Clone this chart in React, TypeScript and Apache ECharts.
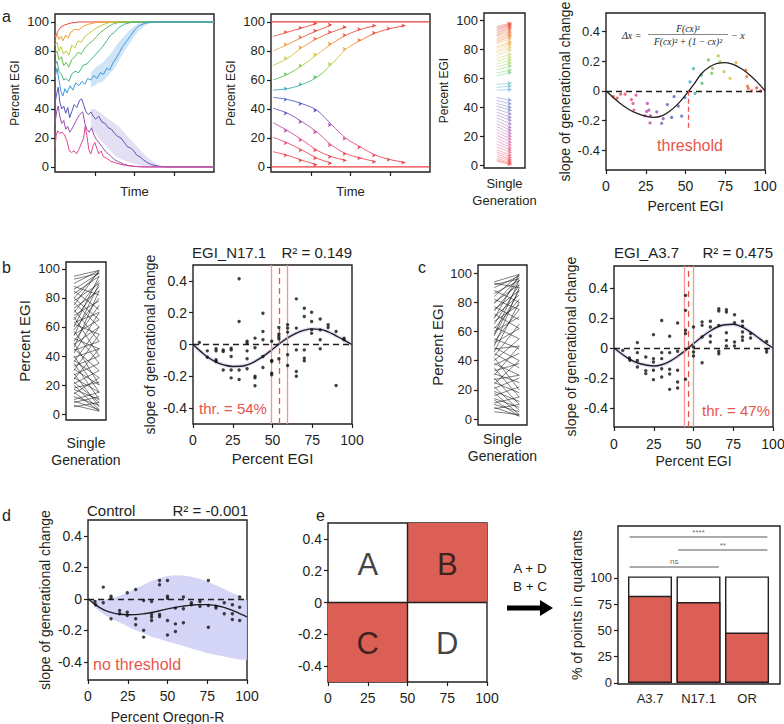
import React, { useEffect, useRef } from "react";
import * as echarts from "echarts";

const FONT = '"Liberation Sans", Arial, Helvetica, sans-serif';
const SERIF = '"Liberation Serif", "DejaVu Serif", serif';
const INK = "#231f20";
const QUAD_RED = "#dc5f55";
const THR_RED = "#e8554c";
const THR_LIGHT = "#f2968f";

// ---------------- Panel a1: simulated trajectories (time 0..4) ----------------
const A1_RED = [[0, 86], [0.03, 91], [0.08, 94], [0.15, 96.5], [0.25, 98], [0.4, 99.3], [0.6, 100], [4, 100]];
const A1_ORANGE = [[0, 90], [0.05, 92], [0.1, 88], [0.15, 90], [0.2, 87], [0.27, 91], [0.33, 89], [0.4, 93], [0.5, 95], [0.6, 94.5], [0.7, 97], [0.85, 98.5], [1.0, 99.5], [1.15, 100], [4, 100]];
const A1_YELLOW = [[0, 84], [0.05, 86], [0.1, 80], [0.15, 83], [0.22, 78], [0.28, 80], [0.35, 77], [0.42, 84], [0.5, 82], [0.58, 87], [0.66, 86], [0.75, 90], [0.85, 92], [0.95, 94], [1.05, 96], [1.2, 98], [1.35, 99.5], [1.5, 100], [4, 100]];
const A1_GREEN = [[0, 78], [0.05, 80], [0.1, 74], [0.16, 76], [0.22, 70], [0.28, 72], [0.35, 69], [0.42, 74], [0.5, 76], [0.58, 79], [0.66, 78], [0.75, 82], [0.85, 85], [0.95, 87], [1.05, 90], [1.15, 93], [1.3, 96], [1.45, 98.5], [1.6, 99.6], [1.75, 100], [4, 100]];
const A1_TEAL = [[0, 70], [0.05, 73], [0.1, 66], [0.16, 64], [0.22, 60], [0.28, 61], [0.35, 59], [0.42, 64], [0.5, 66], [0.6, 65], [0.7, 70], [0.8, 71], [0.9, 74], [1.0, 77], [1.1, 80], [1.2, 83], [1.3, 87], [1.4, 91], [1.5, 93], [1.6, 96], [1.75, 98.5], [1.9, 99.6], [2.1, 100], [4, 100]];
const A1_BLUE = [[0, 62], [0.05, 68], [0.1, 60], [0.15, 52], [0.2, 49], [0.25, 54], [0.3, 51], [0.38, 56], [0.45, 53], [0.52, 58], [0.6, 56], [0.68, 59], [0.75, 57], [0.82, 61], [0.9, 60], [0.98, 63], [1.06, 61], [1.14, 65], [1.22, 64], [1.3, 68], [1.38, 67], [1.46, 72], [1.54, 75], [1.62, 79], [1.7, 83], [1.78, 86], [1.86, 89], [1.94, 92], [2.02, 95], [2.12, 97.5], [2.25, 99], [2.4, 99.8], [2.6, 100], [4, 100]];
const A1_INDIGO = [[0, 44], [0.04, 50], [0.08, 55], [0.12, 45], [0.17, 40], [0.22, 42], [0.27, 37], [0.32, 41], [0.37, 34], [0.42, 38], [0.48, 43], [0.55, 41], [0.62, 46], [0.67, 47], [0.72, 43], [0.78, 38], [0.84, 36], [0.9, 38], [0.96, 35], [1.02, 33], [1.1, 35], [1.18, 31], [1.26, 30], [1.34, 27], [1.42, 26], [1.5, 23], [1.58, 21], [1.66, 20], [1.74, 17], [1.82, 14], [1.9, 13], [1.98, 11], [2.06, 8], [2.14, 7], [2.22, 5], [2.32, 3], [2.44, 1.5], [2.6, 0.5], [2.8, 0], [4, 0]];
const A1_PURPLE = [[0, 30], [0.04, 38], [0.08, 42], [0.12, 35], [0.17, 30], [0.22, 32], [0.27, 26], [0.32, 28], [0.37, 24], [0.42, 26], [0.48, 29], [0.55, 33], [0.62, 36], [0.7, 38], [0.75, 30], [0.8, 26], [0.86, 24], [0.92, 27], [0.98, 22], [1.04, 19], [1.1, 17], [1.18, 14], [1.26, 11], [1.34, 9], [1.42, 7], [1.5, 5], [1.6, 3.5], [1.72, 2], [1.85, 1], [2.0, 0.3], [2.2, 0], [4, 0]];
const A1_PINK = [[0, 13], [0.03, 22], [0.07, 25], [0.12, 23], [0.18, 24], [0.24, 22], [0.3, 18], [0.36, 11], [0.42, 10], [0.48, 11], [0.54, 9], [0.6, 12], [0.66, 16], [0.72, 20], [0.76, 28], [0.8, 22], [0.85, 12], [0.9, 9], [0.95, 14], [1.0, 17], [1.05, 13], [1.1, 9], [1.16, 11], [1.22, 7], [1.3, 6], [1.4, 4], [1.5, 3], [1.65, 1.8], [1.8, 1], [2.0, 0.4], [2.3, 0], [4, 0]];
const A1_LINES = [A1_RED, A1_ORANGE, A1_YELLOW, A1_GREEN, A1_TEAL, A1_INDIGO, A1_PURPLE, A1_PINK, A1_BLUE];
const A1_COLORS = ["#e8453c", "#f0a030", "#b9cf3a", "#62c24e", "#3dba86", "#5a56b4", "#9a4fb0", "#e04592", "#3b98de"];
// bands: [time, low, high]
const A1_BLUE_BAND = [[0.9, 55, 65], [1.0, 56, 68], [1.1, 58, 70], [1.2, 59, 72], [1.3, 62, 75], [1.4, 65, 78], [1.5, 68, 82], [1.6, 73, 86], [1.7, 78, 89], [1.8, 82, 92], [1.9, 86, 95], [2.0, 90, 97], [2.1, 94, 99], [2.2, 96, 100], [2.3, 98, 100], [2.4, 99, 100]];
const A1_INDIGO_BAND = [[0.9, 26, 40], [1.0, 24, 40], [1.1, 20, 38], [1.2, 17, 36], [1.3, 14, 34], [1.4, 11, 32], [1.5, 8, 30], [1.6, 6, 28], [1.7, 5, 25], [1.8, 4, 22], [1.9, 3, 19], [2.0, 2, 16], [2.1, 1.5, 13], [2.2, 1, 10], [2.3, 0.5, 7], [2.4, 0, 5], [2.5, 0, 3], [2.6, 0, 1.5], [2.7, 0, 0.5]];

// ---------------- Panel a2: model trajectories, one value per generation ----------------
const A2_GEN_START = 0.05;
const A2_GEN_STEP = 0.37;
const A2_TRAJ = [
  [90, 93, 96, 99],
  [80, 84.5, 89.5, 94, 98],
  [70, 75, 82.5, 88.5, 93, 96.5],
  [60, 64, 70, 77.5, 85, 91, 95, 97.5],
  [53, 54, 57, 62, 71, 81.5, 87.5, 92.5, 95.5, 97.5],
  [48, 46.5, 43.5, 39, 29, 19.5, 13.5, 8, 5, 3],
  [40.5, 37, 31, 24, 15, 9, 6, 3.5],
  [30.5, 25, 18.5, 11.5, 7, 4.5],
  [20.5, 16.5, 11.5, 6, 2.5],
  [10.5, 8, 4.5, 1.5],
];
const A2_FIXED = [100, 0];

// ---------------- Panel a3: single generation arrows [start, end] ----------------
const A3_ARROWS = [
  [96, 98.5], [95, 98], [94, 97.5], [93, 97], [92, 96], [91, 95.5], [90, 94.5], [89.5, 93],
  [88, 92], [87, 91], [86, 90], [85, 89.5], [84, 88],
  [82, 86], [81, 85], [79, 84], [78, 82], [76, 80],
  [74, 77], [72, 75], [70, 73], [68, 71], [66, 69], [64, 66], [62, 64.5],
  [56, 57], [54, 55], [52, 52.5],
  [47, 45], [45, 42.5], [43, 40], [41, 38], [39, 35.5],
  [37, 33], [35, 31], [33, 28.5], [31, 26], [29, 24],
  [27, 22], [25, 20], [23, 18], [21, 16], [19, 14], [17, 12], [15, 10.5], [13, 9],
  [11, 7], [9.5, 5.5], [8, 4], [6.5, 3], [5, 2], [4, 1.2], [3, 0.6],
];

// ---------------- Panel a4: model slope vs percent ----------------
const A4_POINTS = [
  [4.6, -0.04], [7, -0.05], [9.2, -0.023], [12, -0.023], [16, -0.06], [17, -0.086], [17.6, -0.13], [18.9, -0.03],
  [24.5, -0.17], [25.6, -0.14], [26, -0.086], [27, -0.13], [27.7, -0.217], [28, -0.17], [31.9, -0.142],
  [35, -0.22], [36, -0.188], [38.6, -0.093], [41.3, -0.18], [42.8, -0.04], [45.5, -0.104], [47.6, -0.172],
  [49.7, -0.047], [52.8, 0.06], [55, 0.15], [56, -0.018], [60, 0.106], [60.4, 0.05],
  [64.4, 0.208], [66.5, 0.117], [67, 0.151], [70.6, 0.235], [71.7, 0.197], [74.2, 0.129], [78, 0.084],
  [81.8, 0.19], [88, 0.14], [88.5, 0.095], [89, 0.032], [89.5, 0.016], [91.6, 0.0], [94.8, 0.02], [97.3, 0.0],
];
const FIT_X = [0, 5, 10, 15, 20, 25, 30, 35, 40, 45, 50, 55, 60, 65, 70, 75, 80, 85, 90, 95, 100];
const A4_FIT = [0, -0.05, -0.095, -0.13, -0.155, -0.172, -0.18, -0.17, -0.138, -0.092, -0.03, 0.04, 0.115, 0.16, 0.185, 0.19, 0.178, 0.15, 0.11, 0.06, 0];
const A4_THRESHOLD = 52;
const A4_THR_DEPTH = -0.25;

// ---------------- Panel b ----------------
const B1_LINES = [
  [95, 99], [93, 97], [90, 99], [88, 82], [86, 97], [85, 72], [83, 95], [80, 98], [80, 65], [78, 90], [77, 60], [75, 99],
  [73, 85], [72, 50], [70, 92], [68, 78], [67, 40], [65, 88], [63, 70], [62, 55], [60, 95], [58, 80], [57, 35], [55, 65],
  [54, 90], [52, 45], [50, 75], [49, 20], [48, 60], [46, 85], [45, 30], [44, 50], [42, 70], [40, 15], [39, 45], [37, 25],
  [36, 60], [35, 10], [33, 40], [31, 20], [30, 55], [28, 5], [27, 35], [25, 15], [24, 45], [22, 8], [21, 30], [20, 3],
  [18, 22], [17, 10], [15, 2], [14, 25], [12, 6], [10, 15], [9, 3], [8, 12], [6, 2], [5, 8],
];
const B2_POINTS = [
  [4, 0.013], [9, -0.04], [9, -0.08], [14.5, -0.027], [14.5, -0.04], [14.5, -0.096], [14.5, -0.107],
  [19, -0.034], [19, -0.044], [19, -0.16], [24, -0.023], [24, -0.034], [24, -0.075], [24, -0.16], [24, -0.21],
  [29, 0.413], [29, 0.145], [29, -0.16], [29, -0.22], [34, 0.02], [34, 0.008], [34, -0.04], [34, -0.09], [34, -0.153],
  [39, 0.04], [39, -0.02], [39, -0.2], [39, -0.21], [39, -0.26], [44, 0.197], [44, 0.082], [44, 0.03], [44, -0.075], [44, -0.145],
  [49.5, 0.02], [49.5, -0.1], [49.5, -0.107], [49.5, -0.18], [49.5, -0.19],
  [54, 0.107], [54, 0.065], [54, 0.05], [54, 0.036], [54, -0.09],
  [59.5, 0.124], [59.5, 0.103], [59.5, 0.078], [59.5, -0.065], [59.5, -0.132],
  [65, 0.287], [65, 0.103], [65, -0.034], [65, -0.17], [65, -0.2],
  [70, 0.228], [70, 0.176], [70, -0.034], [70, -0.086], [70, -0.103],
  [74.6, 0.203], [74.6, 0.145], [74.6, 0.092], [74.6, 0.07],
  [80, 0.16], [80, 0.092], [80, 0.03], [80, -0.027],
  [85, 0.124], [85, 0.107], [90, 0.082], [90, -0.258], [95, 0.04], [95, 0.03],
];
const B2_FIT = [0, -0.045, -0.085, -0.112, -0.13, -0.138, -0.137, -0.125, -0.1, -0.068, -0.03, 0.01, 0.045, 0.072, 0.09, 0.098, 0.095, 0.08, 0.055, 0.028, 0];
const B2_THR = 54;
const B2_CI = [49, 59];

// ---------------- Panel c ----------------
const C1_LINES = [
  [94, 99], [93, 90], [92, 96], [90, 98], [88, 80], [86, 95], [84, 99], [82, 75], [80, 92], [79, 97], [77, 68], [75, 88],
  [74, 95], [72, 62], [70, 85], [69, 99], [67, 78], [65, 92], [63, 55], [62, 82], [60, 70], [58, 95], [57, 88], [55, 48],
  [53, 75], [52, 62], [50, 90], [49, 40], [48, 50], [46, 80], [45, 35], [43, 65], [42, 20], [40, 55], [38, 30], [37, 45],
  [35, 15], [33, 38], [31, 25], [30, 50], [28, 10], [27, 30], [25, 18], [24, 40], [22, 6], [21, 28], [19, 12], [18, 3],
  [16, 22], [14, 8], [13, 2], [11, 15], [10, 5], [8, 2], [7, 10], [5, 3],
];
const C2_POINTS = [
  [5.5, -0.016], [9.7, -0.067], [10, -0.082], [14.7, 0.036], [14.7, -0.031], [14.7, -0.084], [14.7, -0.127],
  [20, -0.06], [20, -0.151], [20, -0.171], [24.8, 0.089], [24.8, -0.071], [24.8, -0.093], [24.8, -0.149], [24.8, -0.211],
  [30, 0.184], [30, -0.031], [30, -0.071], [30, -0.138], [30, -0.193], [35, 0.078], [35, -0.031], [35, -0.142], [35, -0.173], [35, -0.276],
  [40, 0.167], [40, -0.022], [40, -0.149], [40, -0.227], [40, -0.267], [45, 0.351], [45, 0.251], [45, 0.118], [45, 0.096], [45, -0.209],
  [50, 0.14], [50, 0.007], [50, -0.027], [50, -0.053], [55.4, 0.173], [55.4, 0.151], [55.4, 0.073], [55.4, -0.098],
  [60.6, 0.178], [60.6, 0.14], [60.6, 0.08], [60.6, 0.04], [65.9, 0.262], [65.9, 0.247], [65.9, 0.151], [65.9, -0.022], [65.9, -0.038],
  [70.7, 0.256], [70.7, 0.24], [70.7, 0.102], [70.7, 0.051], [70.7, 0.013], [75.8, 0.222], [75.8, 0.169], [75.8, 0.04], [75.8, 0.013],
  [80.8, 0.178], [80.8, 0.147], [80.8, 0.107], [80.8, 0.073], [80.8, 0.051], [85.9, 0.096], [85.9, 0.067],
  [96, 0.044], [96, -0.009], [96, -0.027],
];
const C2_FIT = [0, -0.04, -0.076, -0.1, -0.113, -0.12, -0.112, -0.09, -0.055, -0.016, 0.029, 0.072, 0.11, 0.14, 0.155, 0.158, 0.143, 0.113, 0.075, 0.035, 0];
const C2_THR = 47;
const C2_CI = [44, 50];

// ---------------- Panel d ----------------
const D_POINTS = [
  [4.4, -0.017], [4.8, -0.038], [9.6, 0.074], [9.6, -0.025], [14.5, 0.017], [14.5, 0.004], [14.5, -0.127],
  [19.9, -0.074], [19.9, -0.095], [24.7, 0.038], [24.7, -0.085], [24.7, -0.106], [30, 0.059], [30, -0.127], [30, -0.165],
  [35, -0.011], [35, -0.2], [35, -0.243], [40, -0.017], [40, -0.1], [40, -0.116], [40, -0.138],
  [45, 0.116], [45, 0.089], [45, -0.1], [45, -0.112], [50, 0.116], [50, 0.017], [50, 0.004], [50, -0.138], [50, -0.229],
  [55, -0.059], [55, -0.159], [55, -0.207], [60, 0.011], [60, -0.063], [60, -0.152], [65, -0.025], [65, -0.038],
  [70.4, -0.017], [70.4, -0.047], [75.7, 0.116], [75.7, -0.042], [75.7, -0.18], [80.5, -0.047], [80.5, -0.059],
  [85.7, -0.025], [85.7, -0.095], [90.8, -0.038], [90.8, -0.095], [90.8, -0.131], [95.4, 0.011], [95.4, -0.053], [95.4, -0.138],
];
const D_FIT = [0, -0.04, -0.07, -0.088, -0.098, -0.101, -0.1, -0.095, -0.087, -0.076, -0.064, -0.054, -0.046, -0.04, -0.037, -0.037, -0.042, -0.053, -0.07, -0.092, -0.115];
const D_BAND_LOW = [0, -0.06, -0.1, -0.13, -0.15, -0.175, -0.2, -0.22, -0.24, -0.255, -0.27, -0.285, -0.3, -0.315, -0.33, -0.345, -0.355, -0.365, -0.375, -0.385, -0.39];
const D_BAND_HIGH = [0, -0.01, -0.005, 0.005, 0.02, 0.04, 0.065, 0.09, 0.115, 0.13, 0.145, 0.15, 0.148, 0.14, 0.128, 0.11, 0.088, 0.065, 0.04, 0.02, -0.01];

// ---------------- Panel e ----------------
const QUAD_LABELS = ["A", "B", "C", "D"];
const QUAD_X = [25, 75, 25, 75];
const QUAD_Y = [0.24, 0.24, -0.26, -0.26];
const QUAD_SPLIT_X = 50;
const QUAD_SPLIT_Y = 0;
const E2_CATS = ["A3.7", "N17.1", "OR"];
const E2_IN = [83, 77, 48];
const E2_OUT = [18.5, 24.5, 53.5];
const E2_SIG = [
  { from: 0, to: 2, y: 139, text: "****" },
  { from: 1, to: 2, y: 126.5, text: "**" },
  { from: 0, to: 1, y: 110.5, text: "ns" },
];

const SLOPE_TICKS = [-0.4, -0.2, 0, 0.2, 0.4];
const PCT_TICKS = [0, 20, 40, 60, 80, 100];
const E2_TICKS = [0, 25, 50, 75, 100];

// ---------------- colour helpers ----------------
const RAINBOW_STOPS: [number, string][] = [
  [0, "#ec3b3b"], [12, "#ee4a62"], [20, "#e2489a"], [30, "#a24fb4"], [40, "#5e56b8"], [48, "#4f6dcc"],
  [52, "#3aa0e6"], [58, "#3db87a"], [64, "#62c24c"], [72, "#b3cf38"], [80, "#f0b23a"], [86, "#f08a38"],
  [92, "#ec4f3b"], [100, "#ec3b3b"],
];
function hexRgb(h: string) {
  return [parseInt(h.slice(1, 3), 16), parseInt(h.slice(3, 5), 16), parseInt(h.slice(5, 7), 16)];
}
function rainbow(v: number) {
  for (let i = 0; i < RAINBOW_STOPS.length - 1; i++) {
    const [a, ca] = RAINBOW_STOPS[i];
    const [b, cb] = RAINBOW_STOPS[i + 1];
    if (v >= a && v <= b) {
      const t = (v - a) / (b - a);
      const A = hexRgb(ca), B = hexRgb(cb);
      const c = A.map((x, k) => Math.round(x + (B[k] - x) * t));
      return `rgb(${c[0]},${c[1]},${c[2]})`;
    }
  }
  return RAINBOW_STOPS[RAINBOW_STOPS.length - 1][1];
}

function axis(gridIndex: number, o: any = {}) {
  return {
    type: "value",
    gridIndex,
    ...o,
    axisLine: { show: false, onZero: false, ...(o.axisLine || {}) },
    axisTick: { show: true, length: 4, lineStyle: { color: INK, width: 1.2 }, ...(o.axisTick || {}) },
    axisLabel: { color: INK, fontSize: 13, fontFamily: FONT, margin: 6, ...(o.axisLabel || {}) },
    splitLine: { show: false },
    nameLocation: "middle",
    nameTextStyle: { color: INK, fontSize: 14, fontFamily: FONT, lineHeight: 17, ...(o.nameTextStyle || {}) },
  };
}
const slopeFmt = (v: number) => (v === 0 ? "0" : String(v));

function txt(text: string, x: number, y: number, size: number, color = INK, align = "left", extra: any = {}) {
  return {
    type: "text",
    x,
    y,
    silent: true,
    style: {
      text,
      fill: color,
      fontSize: size,
      fontFamily: FONT,
      align,
      textAlign: align,
      verticalAlign: "middle",
      textVerticalAlign: "middle",
      ...extra,
    },
  };
}

function buildOption() {
  const grids = [
    { left: 55, top: 14, width: 159, height: 158 },
    { left: 271, top: 14, width: 159, height: 158 },
    { left: 484, top: 13, width: 41, height: 155 },
    { left: 606, top: 13, width: 159, height: 157 },
    { left: 66, top: 262, width: 40, height: 158 },
    { left: 193, top: 265, width: 159, height: 159 },
    { left: 478, top: 265, width: 49, height: 160 },
    { left: 614, top: 266, width: 159, height: 161 },
    { left: 88, top: 520, width: 159, height: 160 },
    { left: 328, top: 523, width: 159, height: 159 },
    { left: 618, top: 526, width: 162, height: 158 },
  ].map((g) => ({ ...g, show: true, borderColor: INK, borderWidth: 1.4, backgroundColor: "transparent", containLabel: false, outerBoundsMode: "none" }));

  const noAxis = { axisTick: { show: false }, axisLabel: { show: false } };
  const xAxis = [
    axis(0, { min: 0, max: 4, axisTick: { customValues: [1, 2, 3] }, axisLabel: { show: false }, name: "Time", nameGap: 11, nameTextStyle: { fontSize: 13 } }),
    axis(1, { min: 0, max: 4, axisTick: { customValues: [1, 2, 3] }, axisLabel: { show: false }, name: "Time", nameGap: 11, nameTextStyle: { fontSize: 13 } }),
    axis(2, { min: -0.85, max: 1.9, ...noAxis, name: "Single\nGeneration", nameGap: 7, nameTextStyle: { fontSize: 13 } }),
    axis(3, { min: 0, max: 100, interval: 25, axisLabel: { fontSize: 14, margin: 9 }, name: "Percent EGI", nameGap: 27, nameTextStyle: { fontSize: 14 } }),
    axis(4, { min: -0.317, max: 1.27, ...noAxis, name: "Single\nGeneration", nameGap: 14, nameTextStyle: { fontSize: 14 } }),
    axis(5, { min: 0, max: 100, interval: 25, axisLabel: { fontSize: 14, margin: 9 }, name: "Percent EGI", nameGap: 26, nameTextStyle: { fontSize: 15 } }),
    axis(6, { min: -0.65, max: 1.31, ...noAxis, name: "Single\nGeneration", nameGap: 5, nameTextStyle: { fontSize: 14 } }),
    axis(7, { min: 0, max: 100, interval: 25, axisLabel: { fontSize: 14, margin: 10 }, name: "Percent EGI", nameGap: 25, nameTextStyle: { fontSize: 14 } }),
    axis(8, { min: 0, max: 100, interval: 25, axisLabel: { fontSize: 14, margin: 9 }, name: "Percent Oregon-R", nameGap: 28, nameTextStyle: { fontSize: 14 } }),
    axis(9, { min: 0, max: 100, interval: 25, axisLabel: { fontSize: 14, margin: 9 } }),
    axis(10, {
      min: 0.34, max: 3.68, axisTick: { show: false },
      axisLabel: { customValues: [1, 2, 3], formatter: (v: number) => E2_CATS[Math.round(v) - 1], fontSize: 13, margin: 8 },
    }),
  ];
  const pctY = { axisTick: { customValues: PCT_TICKS }, axisLabel: { customValues: PCT_TICKS } };
  const slopeY = (fs: number) => ({ axisTick: { customValues: SLOPE_TICKS }, axisLabel: { customValues: SLOPE_TICKS, formatter: slopeFmt, fontSize: fs } });
  const slopeName = "slope of generational change";
  const yAxis = [
    axis(0, { min: -3.5, max: 105.5, ...pctY, name: "Percent EGI", nameGap: 30, nameTextStyle: { fontSize: 12 } }),
    axis(1, { min: -3.5, max: 105.5, ...pctY, name: "Percent EGI", nameGap: 31, nameTextStyle: { fontSize: 12 } }),
    axis(2, { min: -1.6, max: 105.3, ...pctY, name: "Percent EGI", nameGap: 29, nameTextStyle: { fontSize: 12 } }),
    axis(3, { min: -0.535, max: 0.525, ...slopeY(13), name: slopeName, nameGap: 30, nameTextStyle: { fontSize: 14 } }),
    axis(4, { min: -4.1, max: 104.8, ...pctY, name: "Percent EGI", nameGap: 33, nameTextStyle: { fontSize: 15 } }),
    axis(5, { min: -0.5, max: 0.5, ...slopeY(14), name: slopeName, nameGap: 35, nameTextStyle: { fontSize: 14 } }),
    axis(6, { min: -4.1, max: 105.5, ...pctY, name: "Percent EGI", nameGap: 23, nameTextStyle: { fontSize: 15 } }),
    axis(7, { min: -0.527, max: 0.547, ...slopeY(14), name: slopeName, nameGap: 32, nameTextStyle: { fontSize: 14 } }),
    axis(8, { min: -0.515, max: 0.5, ...slopeY(14), name: slopeName, nameGap: 35, nameTextStyle: { fontSize: 14 } }),
    axis(9, { min: -0.5, max: 0.5, ...slopeY(14) }),
    axis(10, { min: -1, max: 149.5, axisTick: { customValues: E2_TICKS }, axisLabel: { customValues: E2_TICKS }, name: "% of points in quadrants", nameGap: 33, nameTextStyle: { fontSize: 14 } }),
  ];

  const series: any[] = [];
  const add = (s: any) => {
    series.push({ animation: false, silent: true, ...s });
    return series.length - 1;
  };
  // shaded band drawn as one polygon through the axis scales
  const band = (g: number, xs: number[], lo: number[], hi: number[], color: string) => {
    add({
      type: "custom", coordinateSystem: "cartesian2d", xAxisIndex: g, yAxisIndex: g, z: 1,
      data: xs.map((x, i) => [x, lo[i], hi[i]]),
      renderItem: (params: any, api: any) => {
        if (params.dataIndex !== 0) return { type: "group", children: [] };
        const top = xs.map((x, i) => api.coord([x, hi[i]]));
        const bot = xs.map((x, i) => api.coord([x, lo[i]])).reverse();
        return { type: "polygon", shape: { points: top.concat(bot) }, style: { fill: color } };
      },
    });
  };
  const dashZero = { silent: true, symbol: "none", label: { show: false }, lineStyle: { color: INK, type: [6, 4], width: 1.3 }, data: [{ yAxis: 0 }] };

  // a1
  band(0, A1_BLUE_BAND.map((r) => r[0]), A1_BLUE_BAND.map((r) => r[1]), A1_BLUE_BAND.map((r) => r[2]), "rgba(130,185,235,0.38)");
  band(0, A1_INDIGO_BAND.map((r) => r[0]), A1_INDIGO_BAND.map((r) => r[1]), A1_INDIGO_BAND.map((r) => r[2]), "rgba(165,160,215,0.32)");
  A1_LINES.forEach((d, i) =>
    add({ type: "line", xAxisIndex: 0, yAxisIndex: 0, data: d, symbol: "none", lineStyle: { color: A1_COLORS[i], width: 1 }, z: i === A1_LINES.length - 1 || i === 7 ? 4 : 2 })
  );

  // a2
  const a2Idx: number[] = [];
  A2_FIXED.forEach((v) => a2Idx.push(add({ type: "line", xAxisIndex: 1, yAxisIndex: 1, data: [[0, v], [4, v]], symbol: "none", lineStyle: { width: 1.2 } })));
  A2_TRAJ.forEach((t) =>
    a2Idx.push(
      add({
        type: "line", xAxisIndex: 1, yAxisIndex: 1,
        data: t.map((v, k) => [A2_GEN_START + k * A2_GEN_STEP, v]),
        smooth: 0.35,
        symbol: (_v: any, p: any) => (p.dataIndex === 0 ? "none" : "arrow"),
        symbolSize: [3.2, 4], symbolRotate: -90, showSymbol: true,
        lineStyle: { width: 0.9 },
      })
    )
  );

  // a3
  add({
    type: "lines", coordinateSystem: "cartesian2d", xAxisIndex: 2, yAxisIndex: 2,
    symbol: ["none", "arrow"], symbolSize: 4,
    data: A3_ARROWS.map(([s, e]) => ({ coords: [[0, s], [1, e]], lineStyle: { color: rainbow(s), width: 0.8 } })),
  });

  // a4
  add({ type: "scatter", xAxisIndex: 3, yAxisIndex: 3, data: A4_POINTS, symbolSize: 3.2, itemStyle: { color: (p: any) => rainbow(p.value[0]) } });
  add({
    type: "line", xAxisIndex: 3, yAxisIndex: 3, data: FIT_X.map((x, i) => [x, A4_FIT[i]]), smooth: 0.4, symbol: "none",
    lineStyle: { color: INK, width: 1.3 }, z: 4,
    markLine: {
      ...dashZero,
      data: [
        { yAxis: 0 },
        [{ coord: [A4_THRESHOLD, 0], lineStyle: { color: THR_RED, type: [5, 3], width: 1.3 } }, { coord: [A4_THRESHOLD, A4_THR_DEPTH] }],
      ],
    },
  });

  // b1 / c1
  add({ type: "lines", coordinateSystem: "cartesian2d", xAxisIndex: 4, yAxisIndex: 4, data: B1_LINES.map(([s, e]) => ({ coords: [[0, s], [1, e]] })), lineStyle: { color: "#111", width: 0.6, opacity: 0.9 } });
  add({ type: "lines", coordinateSystem: "cartesian2d", xAxisIndex: 6, yAxisIndex: 6, data: C1_LINES.map(([s, e]) => ({ coords: [[0, s], [1, e]] })), lineStyle: { color: "#111", width: 0.6, opacity: 0.9 } });

  // b2 / c2 scatter with fit and thresholds
  const slopePanel = (g: number, pts: number[][], fit: number[], thr: number, ci: number[]) => {
    add({
      type: "line", xAxisIndex: g, yAxisIndex: g, data: FIT_X.map((x, i) => [x, fit[i]]), smooth: 0.4, symbol: "none",
      lineStyle: { color: "rgba(160,160,240,0.3)", width: 4 }, z: 1,
      markLine: {
        silent: true, symbol: "none", label: { show: false },
        data: [
          { xAxis: ci[0], lineStyle: { color: THR_LIGHT, type: "solid", width: 1.3 } },
          { xAxis: ci[1], lineStyle: { color: THR_LIGHT, type: "solid", width: 1.3 } },
          { xAxis: thr, lineStyle: { color: THR_RED, type: [6, 4], width: 1.3 } },
        ],
      },
    });
    add({ type: "line", xAxisIndex: g, yAxisIndex: g, data: FIT_X.map((x, i) => [x, fit[i]]), smooth: 0.4, symbol: "none", lineStyle: { color: INK, width: 1.4 }, z: 4, markLine: dashZero });
    add({ type: "scatter", xAxisIndex: g, yAxisIndex: g, data: pts, symbolSize: 3.4, itemStyle: { color: "#111" }, z: 5 });
  };
  slopePanel(5, B2_POINTS, B2_FIT, B2_THR, B2_CI);
  slopePanel(7, C2_POINTS, C2_FIT, C2_THR, C2_CI);

  // d
  band(8, FIT_X, D_BAND_LOW, D_BAND_HIGH, "rgba(208,208,246,0.9)");
  add({ type: "line", xAxisIndex: 8, yAxisIndex: 8, data: FIT_X.map((x, i) => [x, D_FIT[i]]), smooth: 0.4, symbol: "none", lineStyle: { color: INK, width: 1.4 }, z: 4, markLine: dashZero });
  add({ type: "scatter", xAxisIndex: 8, yAxisIndex: 8, data: D_POINTS, symbolSize: 3.4, itemStyle: { color: "#111" }, z: 5 });

  // e1 quadrants
  add({
    type: "scatter", xAxisIndex: 9, yAxisIndex: 9,
    data: QUAD_LABELS.map((l, i) => [QUAD_X[i], QUAD_Y[i], l]),
    symbolSize: 0,
    label: { show: true, position: "inside", formatter: (p: any) => p.value[2], fontSize: 31, fontFamily: FONT, color: "#111" },
    z: 5,
    markArea: {
      silent: true, itemStyle: { color: QUAD_RED },
      data: [
        [{ coord: [QUAD_SPLIT_X, QUAD_SPLIT_Y] }, { coord: [100, 0.5] }],
        [{ coord: [0, -0.5] }, { coord: [QUAD_SPLIT_X, QUAD_SPLIT_Y] }],
      ],
    },
    markLine: { silent: true, symbol: "none", label: { show: false }, lineStyle: { color: INK, type: "solid", width: 1.4 }, data: [{ xAxis: QUAD_SPLIT_X }, { yAxis: QUAD_SPLIT_Y }] },
  });

  // e2 bars: white total bar with the red share overlaid from zero
  const barX = E2_CATS.map((_, i) => i + 1);
  add({ type: "bar", xAxisIndex: 10, yAxisIndex: 10, barWidth: 44, data: barX.map((x, i) => [x, E2_IN[i] + E2_OUT[i]]), itemStyle: { color: "#fff", borderColor: INK, borderWidth: 1.4 } });
  add({ type: "bar", xAxisIndex: 10, yAxisIndex: 10, barWidth: 44, barGap: "-100%", data: barX.map((x, i) => [x, E2_IN[i]]), itemStyle: { color: QUAD_RED, borderColor: INK, borderWidth: 1.4 } });
  const SIG_HALF = 0.42;
  add({
    type: "lines", coordinateSystem: "cartesian2d", xAxisIndex: 10, yAxisIndex: 10,
    data: E2_SIG.map((s) => ({ coords: [[s.from + 1 - SIG_HALF, s.y], [s.to + 1 + SIG_HALF, s.y]] })),
    lineStyle: { color: INK, width: 1.5 },
  });
  add({
    type: "scatter", xAxisIndex: 10, yAxisIndex: 10, symbolSize: 0,
    data: E2_SIG.map((s) => [(s.from + s.to) / 2 + 1, s.y, s.text]),
    label: { show: true, position: "top", distance: 1, formatter: (p: any) => p.value[2], fontSize: 8, fontFamily: FONT, color: "#444" },
  });

  const graphic: any[] = [
    txt("a", 2, 16, 16),
    txt("b", 2, 267, 16),
    txt("c", 418, 267, 16),
    txt("d", 2, 515, 16),
    txt("e", 316, 515, 16),
    // a4 equation
    txt("Δx =", 622, 35, 10, INK, "left", { fontFamily: SERIF, fontStyle: "italic" }),
    txt("F(cx)²", 688, 29, 9.5, INK, "center", { fontFamily: SERIF, fontStyle: "italic" }),
    { type: "line", silent: true, shape: { x1: 648, y1: 34.5, x2: 728, y2: 34.5 }, style: { stroke: "#555", lineWidth: 0.7 } },
    txt("F(cx)² + (1 − cx)²", 688, 41.5, 9.5, INK, "center", { fontFamily: SERIF, fontStyle: "italic" }),
    txt("− x", 731, 35, 10, INK, "left", { fontFamily: SERIF, fontStyle: "italic" }),
    txt("threshold", 690, 145, 16, THR_RED, "center"),
    // b / c / d titles and notes
    txt("EGI_N17.1", 192, 252, 15),
    txt("R² = 0.149", 352, 252, 15, INK, "right"),
    txt("thr. = 54%", 199, 408, 15, THR_RED),
    txt("EGI_A3.7", 614, 252, 15),
    txt("R² = 0.475", 773, 252, 15, INK, "right"),
    txt("thr. = 47%", 770, 410, 15, THR_RED, "right"),
    txt("Control", 87, 510, 15),
    txt("R² = -0.001", 248, 510, 15, INK, "right"),
    txt("no threshold", 93, 664, 16, THR_RED),
    // e arrow
    txt("A + D", 530, 568, 13.5, INK, "center"),
    txt("B + C", 530, 586, 13.5, INK, "center"),
    {
      type: "polygon", silent: true,
      shape: { points: [[507, 605.5], [540, 605.5], [540, 600], [553, 608], [540, 616], [540, 610.5], [507, 610.5]] },
      style: { fill: "#000" },
    },
  ];

  return {
    animation: false,
    backgroundColor: "#fff",
    textStyle: { fontFamily: FONT },
    grid: grids,
    xAxis,
    yAxis,
    visualMap: [
      {
        type: "continuous", show: false, dimension: 1, min: 0, max: 100, seriesIndex: a2Idx,
        inRange: { color: Array.from({ length: 101 }, (_, i) => rainbow(i)) },
      },
    ],
    series,
    graphic,
  };
}

export default function App() {
  const ref = useRef<HTMLDivElement>(null);
  useEffect(() => {
    document.body.style.margin = "0";
    const chart = echarts.init(ref.current!, null, { renderer: "svg" });
    chart.setOption(buildOption() as any);
    return () => chart.dispose();
  }, []);
  return <div ref={ref} style={{ position: "absolute", left: 0, top: 0, width: 784, height: 724, background: "#fff" }} />;
}
